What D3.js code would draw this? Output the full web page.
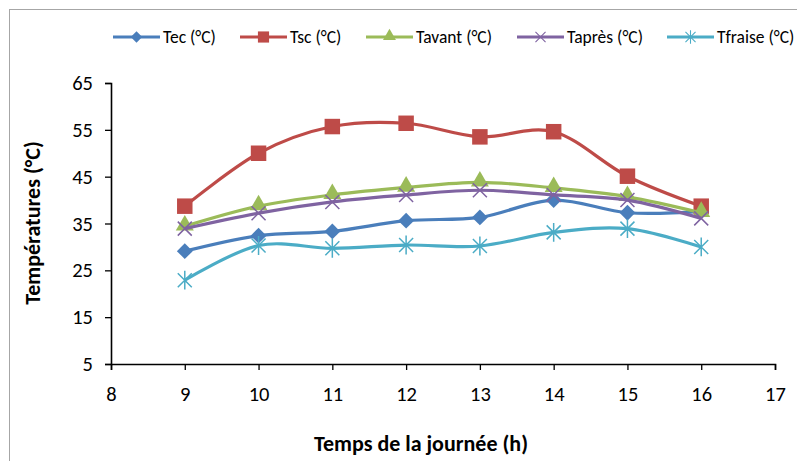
<!DOCTYPE html>
<html>
<head>
<meta charset="utf-8">
<script src="https://cdn.jsdelivr.net/npm/d3@7"></script>
<style>
  html, body { margin: 0; padding: 0; background: #fff; }
  svg { display: block; font-family: Carlito, Calibri, Lato, sans-serif; }
</style>
</head>
<body>
<svg id="chart" width="797" height="461"></svg>
<script>
// Hours of the day
const hours = [9, 10, 11, 12, 13, 14, 15, 16];

// Temperatures (°C) per series
const tec     = [29.1, 32.4, 33.3, 35.6, 36.3, 40.0, 37.3, 37.6];
const tsc     = [38.7, 50.0, 55.7, 56.4, 53.5, 54.6, 45.1, 38.7];
const tavant  = [34.4, 38.7, 41.1, 42.7, 43.8, 42.6, 40.7, 37.3];
const tapres  = [33.9, 37.2, 39.6, 41.1, 42.1, 41.1, 40.0, 36.1];
const tfraise = [22.9, 30.3, 29.7, 30.4, 30.2, 33.1, 33.9, 30.0];

const seriesNames = ["Tec (°C)", "Tsc (°C)", "Tavant  (°C)", "Taprès (°C)", "Tfraise (°C)"];

const xTicks = [8, 9, 10, 11, 12, 13, 14, 15, 16, 17];
const yTicks = [5, 15, 25, 35, 45, 55, 65];

const xLabel = "Temps de la journée (h)";
const yLabel = "Températures (°C)";

const series = [
  { name: seriesNames[0], values: tec,     color: "#4A7EBB", marker: "diamond" },
  { name: seriesNames[1], values: tsc,     color: "#BE4B48", marker: "square" },
  { name: seriesNames[2], values: tavant,  color: "#9BBB59", marker: "triangle" },
  { name: seriesNames[3], values: tapres,  color: "#7F63A1", marker: "x" },
  { name: seriesNames[4], values: tfraise, color: "#4BACC6", marker: "star" }
];

const svg = d3.select("#chart");

// Outer chart frame
svg.append("rect")
  .attr("x", 9.5).attr("y", 9.5)
  .attr("width", 800).attr("height", 470)
  .attr("fill", "none").attr("stroke", "#A6A6A6").attr("stroke-width", 1);

const plot = { left: 111, right: 775, top: 83, bottom: 364 };

const x = d3.scaleLinear().domain([8, 17]).range([plot.left, plot.right]);
const y = d3.scaleLinear().domain([5, 65]).range([plot.bottom, plot.top]);

// Axes
const xAxis = svg.append("g")
  .attr("transform", `translate(0,${plot.bottom})`)
  .call(d3.axisBottom(x).tickValues(xTicks).tickSize(6).tickPadding(16).tickFormat(d3.format("d")));
const yAxis = svg.append("g")
  .attr("transform", `translate(${plot.left},0)`)
  .call(d3.axisLeft(y).tickValues(yTicks).tickSize(6).tickPadding(12).tickFormat(d3.format("d")));

[xAxis, yAxis].forEach(g => {
  g.select(".domain").attr("stroke", "#000").attr("stroke-width", 1.6);
  g.selectAll(".tick line").attr("stroke", "#000").attr("stroke-width", 1.3);
  g.selectAll(".tick text")
    .attr("fill", "#000")
    .style("font-family", "Carlito, Calibri, Lato, sans-serif")
    .style("font-size", "20.5px");
});

// Axis titles
svg.append("text")
  .attr("x", 421)
  .attr("y", 451)
  .attr("text-anchor", "middle")
  .style("font-weight", "bold").style("font-size", "22px")
  .text(xLabel);

svg.append("text")
  .attr("transform", "translate(40,223) rotate(-90)")
  .attr("text-anchor", "middle")
  .style("font-weight", "bold").style("font-size", "22px")
  .text(yLabel);

// Marker drawing
function drawMarker(g, type, color) {
  if (type === "diamond") {
    g.append("path").attr("d", d3.symbol(d3.symbolSquare, 125)()).attr("fill", color)
      .attr("transform", "rotate(45)");
  } else if (type === "square") {
    g.append("path").attr("d", d3.symbol(d3.symbolSquare, 240)()).attr("fill", color);
  } else if (type === "triangle") {
    g.append("path").attr("d", d3.symbol(d3.symbolTriangle, 140)()).attr("fill", color)
      .attr("transform", "translate(0,-1)");
  } else if (type === "x") {
    const s = 7;
    g.append("path").attr("d", `M${-s},${-s}L${s},${s}M${-s},${s}L${s},${-s}`)
      .attr("stroke", color).attr("stroke-width", 1.5).attr("fill", "none");
  } else if (type === "star") {
    const s = 7;
    g.append("path").attr("d", `M${-s},${-s}L${s},${s}M${-s},${s}L${s},${-s}M0,${-s * 1.35}L0,${s * 1.35}`)
      .attr("stroke", color).attr("stroke-width", 1.5).attr("fill", "none");
  }
}

const line = d3.line()
  .x((d, i) => x(hours[i]))
  .y(d => y(d))
  .curve(d3.curveCardinal.tension(0));

series.forEach(s => {
  const g = svg.append("g");
  g.append("path")
    .attr("d", line(s.values))
    .attr("fill", "none")
    .attr("stroke", s.color)
    .attr("stroke-width", 3.2)
    .attr("stroke-linejoin", "round");
  s.values.forEach((v, i) => {
    const m = g.append("g").attr("transform", `translate(${x(hours[i])},${y(v)})`);
    drawMarker(m, s.marker, s.color);
  });
});

// Legend
const legendX = [113, 240, 366, 517, 667];
const legendY = 37;
series.forEach((s, i) => {
  const g = svg.append("g").attr("transform", `translate(${legendX[i]},${legendY})`);
  g.append("line").attr("x1", 0).attr("x2", 47).attr("y1", 0).attr("y2", 0)
    .attr("stroke", s.color).attr("stroke-width", 3.2);
  const m = g.append("g").attr("transform", "translate(23.5,0) scale(0.72)");
  drawMarker(m, s.marker, s.color);
  g.append("text").attr("x", 50).attr("y", 6)
    .style("font-size", "17.5px").attr("fill", "#000")
    .text(s.name);
});
</script>
</body>
</html>
